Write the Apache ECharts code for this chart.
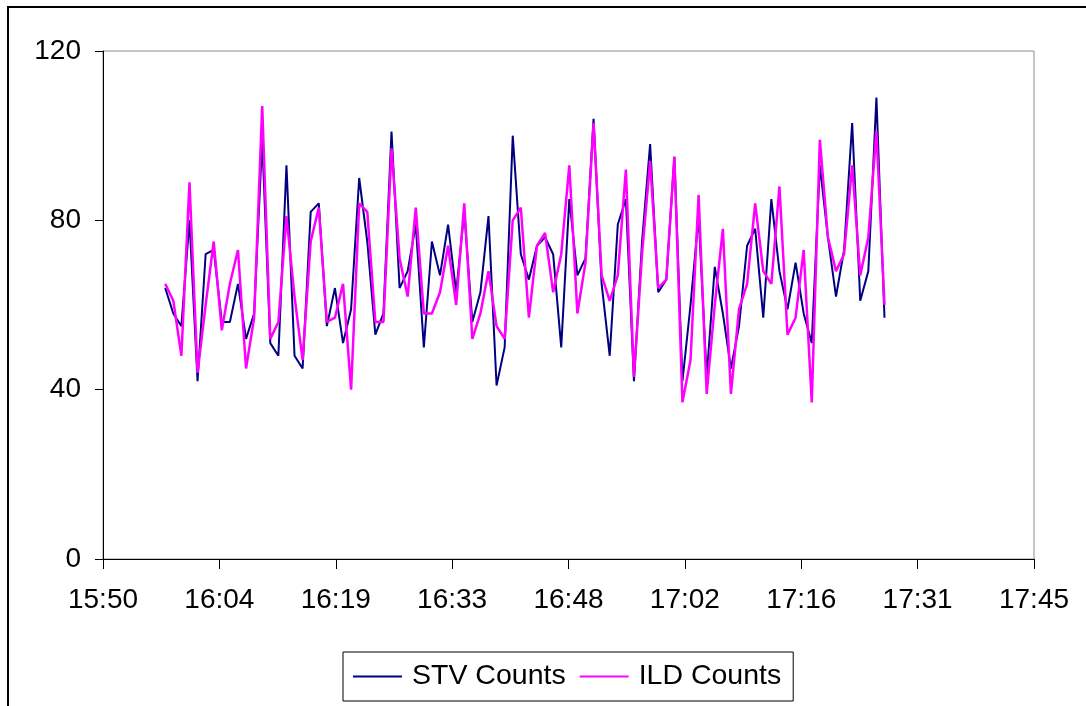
<!DOCTYPE html>
<html>
<head>
<meta charset="utf-8">
<script src="https://cdn.jsdelivr.net/npm/echarts@6/dist/echarts.min.js"></script>
<style>
  html, body { margin: 0; padding: 0; background: #fff; }
  #chart { width: 1086px; height: 706px; }
</style>
</head>
<body>
<div id="chart"></div>
<script>
// one reading per minute, first reading at about 15:58
const startMinute = 958.1;
const seriesNames = ['STV Counts', 'ILD Counts'];

const stvCounts = [
  64, 58, 55, 80, 42, 72, 73, 56, 56, 65,
  52, 58, 99, 51, 48, 93, 48, 45, 82, 84,
  55, 64, 51, 59, 90, 75, 53, 58, 101, 64,
  68, 79, 50, 75, 67, 79, 63, 82, 56, 63,
  81, 41, 50, 100, 72, 66, 74, 76, 72, 50,
  85, 67, 71, 104, 65, 48, 79, 85, 42, 75,
  98, 63, 66, 95, 42, 60, 81, 43, 69, 58,
  45, 55, 74, 78, 57, 85, 68, 59, 70, 58,
  51, 93, 76, 62, 73, 103, 61, 68, 109, 57
];
const ildCounts = [
  65, 61, 48, 89, 44, 60, 75, 54, 65, 73,
  45, 57, 107, 52, 56, 81, 62, 47, 75, 83,
  56, 57, 65, 40, 84, 82, 56, 56, 97, 71,
  62, 83, 58, 58, 63, 74, 60, 84, 52, 58,
  68, 55, 52, 80, 83, 57, 74, 77, 63, 72,
  93, 58, 70, 103, 67, 61, 67, 92, 43, 72,
  94, 64, 66, 95, 37, 47, 86, 39, 60, 78,
  39, 59, 65, 84, 68, 65, 88, 53, 57, 73,
  37, 99, 76, 68, 72, 93, 67, 76, 101, 60
];

const xMin = 950.4;    // 0.66 day
const xMax = 1065.6;   // 0.74 day
const xStep = 14.4;    // 0.01 day
const yTicks = [0, 40, 80, 120];

const chart = echarts.init(document.getElementById('chart'), null, { renderer: 'canvas' });

function clockLabel(v) {
  const m = Math.floor(v + 1e-6);
  const h = Math.floor(m / 60);
  const mm = m % 60;
  return h + ':' + (mm < 10 ? '0' + mm : mm);
}

function toPairs(values) {
  return values.map((v, i) => [startMinute + i, v]);
}

const font = 'Liberation Sans, Arial, sans-serif';

chart.setOption({
  animation: false,
  textStyle: { fontFamily: font },
  graphic: [
    {
      // chart area frame (right and bottom run off the picture)
      type: 'rect',
      shape: { x: 8, y: 7, width: 1200, height: 800 },
      style: { fill: 'none', stroke: '#000', lineWidth: 2 },
      silent: true,
    },
  ],
  grid: {
    left: 103,
    top: 51,
    right: 52,
    bottom: 147,
    show: true,
    borderColor: '#8c8c8c',
    borderWidth: 1,
  },
  legend: {
    left: 343,
    top: 652,
    padding: [10, 12, 10, 10],
    borderColor: '#000',
    borderWidth: 1,
    itemWidth: 49,
    itemHeight: 28,
    itemGap: 14,
    icon: 'path://M0,13 L49,13 L49,15 L0,15 Z',
    textStyle: {
      fontFamily: font,
      fontSize: 28.5,
      color: '#000',
      padding: [0, 0, 0, 5],
      lineHeight: 29,
    },
    data: seriesNames,
  },
  xAxis: {
    type: 'value',
    min: xMin,
    max: xMax,
    interval: xStep,
    axisLine: { show: true, lineStyle: { color: '#000', width: 1 } },
    axisTick: { show: true, length: 10, lineStyle: { color: '#000' } },
    splitLine: { show: false },
    axisLabel: {
      fontSize: 28,
      color: '#000',
      fontFamily: font,
      margin: 27,
      formatter: clockLabel,
    },
  },
  yAxis: {
    type: 'value',
    min: yTicks[0],
    max: yTicks[yTicks.length - 1],
    interval: yTicks[1] - yTicks[0],
    axisLine: { show: true, lineStyle: { color: '#000', width: 1 } },
    axisTick: { show: true, length: 8, lineStyle: { color: '#000' } },
    splitLine: { show: false },
    axisLabel: {
      fontSize: 28,
      color: '#000',
      fontFamily: font,
      margin: 22,
    },
  },
  series: [
    {
      name: seriesNames[0],
      type: 'line',
      data: toPairs(stvCounts),
      showSymbol: false,
      color: '#000080',
      lineStyle: { width: 2, color: '#000080' },
    },
    {
      name: seriesNames[1],
      type: 'line',
      data: toPairs(ildCounts),
      showSymbol: false,
      color: '#ff00ff',
      lineStyle: { width: 2.5, color: '#ff00ff' },
    },
  ],
});
</script>
</body>
</html>
